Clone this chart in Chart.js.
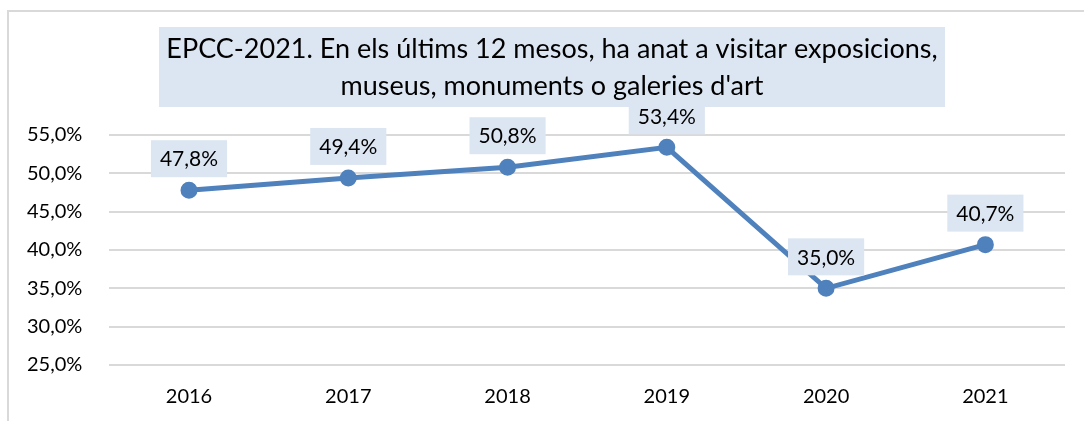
<!DOCTYPE html>
<html>
<head>
<meta charset="utf-8">
<script src="https://cdn.jsdelivr.net/npm/chart.js@4/dist/chart.umd.min.js"></script>
<style>
    html, body { margin: 0; padding: 0; background: #ffffff; }
    #wrap { width: 1084px; height: 421px; }
</style>
</head>
<body>
<div id="wrap"><canvas id="chart" width="1084" height="421"></canvas></div>
<script>
// Chart data
const years = ["2016", "2017", "2018", "2019", "2020", "2021"];
const visitPct = [47.8, 49.4, 50.8, 53.4, 35.0, 40.7];
const titleLines = ["EPCC-2021. En els últims 12 mesos, ha anat a visitar exposicions,", "museus, monuments o galeries d'art"];

const FONT = "Lato, 'Open Sans', sans-serif";
const fmt = v => v.toFixed(1).replace(".", ",") + "%";

// Outer frame, title box, boxed value labels
const overlayPlugin = {
    id: "overlay",
    beforeDraw(chart) {
        const c = chart.ctx;
        c.save();
        c.strokeStyle = "#d9d9d9";
        c.lineWidth = 2;
        c.beginPath();
        c.moveTo(8, 421);
        c.lineTo(8, 11);
        c.lineTo(1084, 11);
        c.stroke();
        c.restore();
    },
    afterDraw(chart) {
        const c = chart.ctx;
        c.save();
        c.fillStyle = "#dce6f2";
        c.fillRect(159, 27, 786, 80);
        c.fillStyle = "#000000";
        c.font = "27px " + FONT;
        c.textAlign = "center";
        c.textBaseline = "middle";
        c.fillText(titleLines[0], 552, 49);
        c.fillText(titleLines[1], 552, 86);

        const meta = chart.getDatasetMeta(0);
        c.font = "21px " + FONT;
        meta.data.forEach((pt, i) => {
            const txt = fmt(visitPct[i]);
            const w = c.measureText(txt).width + 18;
            const h = 37;
            const bottom = pt.y - 13;
            c.fillStyle = "#dce6f2";
            c.fillRect(pt.x - w / 2, bottom - h, w, h);
            c.fillStyle = "#000000";
            c.fillText(txt, pt.x, bottom - h / 2 + 1);
        });
        c.restore();
    }
};

new Chart(document.getElementById("chart"), {
    type: "line",
    data: {
        labels: years,
        datasets: [{
            data: visitPct,
            borderColor: "#4f81bd",
            backgroundColor: "#4f81bd",
            borderWidth: 5,
            pointRadius: 6,
            pointHoverRadius: 6,
            tension: 0
        }]
    },
    options: {
        responsive: false,
        animation: false,
        layout: { padding: { top: 135, right: 19, bottom: 0, left: 0 } },
        plugins: {
            legend: { display: false },
            title: { display: false },
            tooltip: { enabled: false }
        },
        scales: {
            x: {
                offset: true,
                grid: { display: false },
                border: { display: false },
                ticks: { color: "#000000", font: { family: FONT, size: 20 }, padding: 12 }
            },
            y: {
                min: 25,
                max: 55,
                grid: { color: "#d9d9d9", lineWidth: 2, drawTicks: false },
                border: { display: false },
                ticks: {
                    stepSize: 5,
                    color: "#000000",
                    font: { family: FONT, size: 20 },
                    padding: 27,
                    callback: v => fmt(v)
                }
            }
        }
    },
    plugins: [overlayPlugin]
});
</script>
</body>
</html>
